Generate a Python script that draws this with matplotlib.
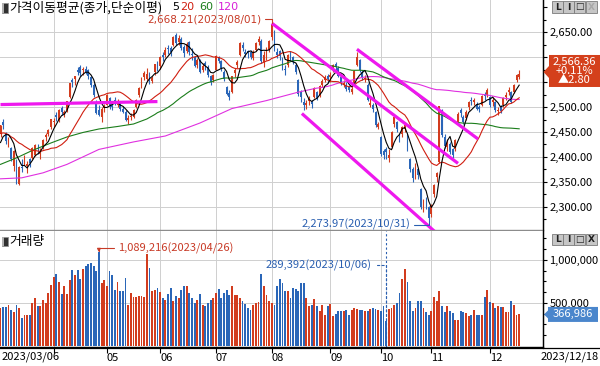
import numpy as np
import pandas as pd
import matplotlib
matplotlib.use("Agg")
import matplotlib.pyplot as plt
from matplotlib.patches import Polygon, Rectangle
from matplotlib.lines import Line2D
from matplotlib.ticker import FixedLocator, FuncFormatter

plt.rcParams['font.family'] = ['Noto Sans CJK KR', 'DejaVu Sans']
plt.rcParams['axes.unicode_minus'] = False

# ---------------- data ----------------
start_date = "2023-03-06"
end_date = "2023-12-18"
holidays = ["2023-05-01", "2023-05-05", "2023-05-29", "2023-06-06", "2023-08-15",
            "2023-09-28", "2023-09-29", "2023-10-02", "2023-10-03", "2023-10-09"]

pre_close = [2438, 2452, 2484, 2482, 2470, 2453, 2466, 2428, 2475, 2451,
             2455, 2459, 2418, 2439, 2424, 2403, 2413, 2433, 2432]

close = [
    2463, 2463, 2432, 2432, 2395, 2411, 2349, 2380, 2378, 2396, 2386, 2388, 2417, 2424, 2415, 2409, 2434, 2444, 2453, 2477,
    2472, 2481, 2495, 2490, 2490, 2512, 2548, 2551, 2562, 2571, 2569, 2576, 2571, 2563, 2544, 2524, 2489, 2485, 2496, 2502,
    2524, 2503, 2501, 2509, 2510, 2497, 2491, 2475, 2479, 2480, 2495, 2515, 2538, 2557, 2569, 2566, 2555, 2559, 2586, 2577,
    2601, 2601, 2615, 2616, 2611, 2641, 2629, 2638, 2619, 2609, 2626, 2610, 2605, 2583, 2594, 2570, 2582, 2582, 2564, 2550, 2564,
    2602, 2593, 2579, 2556, 2527, 2521, 2562, 2575, 2591, 2628, 2619, 2607, 2608, 2601, 2610, 2628, 2636, 2592, 2604, 2608, 2633,
    2667, 2616, 2605, 2603, 2581, 2574, 2605, 2602, 2591, 2571, 2526, 2520, 2505, 2509, 2516, 2506, 2538, 2519, 2543, 2552, 2561, 2556,
    2564, 2585, 2582, 2563, 2548, 2548, 2537, 2535, 2536, 2573, 2601, 2575, 2560, 2559, 2515, 2508, 2496, 2463, 2465,
    2406, 2404, 2409, 2403, 2450, 2480, 2456, 2436, 2460, 2463, 2416, 2375, 2357, 2384, 2363, 2299, 2303, 2311, 2278,
    2302, 2343, 2368, 2502, 2444, 2422, 2427, 2410, 2404, 2433, 2487, 2488, 2470, 2491, 2510, 2512, 2515, 2497, 2496, 2522, 2522, 2535,
    2505, 2515, 2494, 2495, 2492, 2518, 2525, 2535, 2511, 2544, 2563.56, 2566.36]

open_ = [
    2445, 2470, 2448, 2425, 2418, 2382, 2390, 2346, 2380, 2385, 2382, 2395, 2398, 2403, 2418, 2405, 2420, 2440, 2446, 2459,
    2470, 2485, 2475, 2498, 2487, 2495, 2520, 2555, 2557, 2575, 2580, 2574, 2576, 2574, 2560, 2545, 2510, 2495, 2480, 2498,
    2505, 2518, 2505, 2515, 2505, 2508, 2497, 2490, 2474, 2480, 2480, 2500, 2525, 2540, 2560, 2556, 2568, 2553, 2570, 2590,
    2583, 2604, 2605, 2618, 2618, 2625, 2645, 2630, 2636, 2620, 2613, 2630, 2607, 2600, 2585, 2594, 2575, 2588, 2580, 2563, 2555,
    2575, 2600, 2592, 2570, 2540, 2528, 2530, 2568, 2585, 2605, 2625, 2610, 2612, 2610, 2598, 2615, 2630, 2633, 2590, 2605, 2615,
    2640, 2652, 2610, 2612, 2598, 2576, 2585, 2605, 2600, 2585, 2555, 2530, 2510, 2505, 2512, 2510, 2520, 2530, 2525, 2545, 2555, 2562,
    2560, 2575, 2586, 2578, 2560, 2545, 2545, 2540, 2530, 2548, 2585, 2595, 2570, 2556, 2545, 2505, 2505, 2490, 2460,
    2440, 2412, 2415, 2398, 2420, 2465, 2470, 2440, 2445, 2455, 2445, 2395, 2375, 2360, 2375, 2335, 2300, 2312, 2300,
    2285, 2325, 2360, 2390, 2495, 2440, 2420, 2425, 2415, 2415, 2470, 2495, 2480, 2478, 2500, 2515, 2510, 2505, 2500, 2505, 2525, 2525,
    2520, 2510, 2510, 2492, 2500, 2505, 2520, 2530, 2530, 2530, 2555, 2560]

high = [
    2464, 2476, 2450, 2440, 2420, 2414, 2395, 2382, 2395, 2404, 2392, 2398, 2420, 2425, 2425, 2417, 2435, 2448, 2455, 2477,
    2478, 2490, 2497, 2503, 2495, 2513, 2549, 2558, 2563, 2580, 2584, 2580, 2582, 2577, 2562, 2548, 2515, 2505, 2500, 2507,
    2526, 2520, 2510, 2520, 2517, 2512, 2503, 2494, 2484, 2488, 2496, 2516, 2540, 2560, 2572, 2578, 2570, 2563, 2587, 2592,
    2602, 2610, 2620, 2625, 2622, 2643, 2648, 2644, 2640, 2625, 2630, 2632, 2618, 2603, 2598, 2596, 2588, 2592, 2584, 2565, 2567,
    2604, 2603, 2595, 2574, 2543, 2535, 2563, 2578, 2595, 2630, 2630, 2617, 2615, 2614, 2615, 2630, 2643, 2637, 2612, 2620, 2635,
    2668.21, 2655, 2618, 2615, 2600, 2585, 2607, 2612, 2603, 2588, 2557, 2535, 2518, 2515, 2522, 2515, 2540, 2533, 2545, 2556, 2565, 2566,
    2570, 2586, 2590, 2582, 2562, 2555, 2550, 2545, 2542, 2575, 2610, 2597, 2575, 2565, 2548, 2518, 2508, 2492, 2470,
    2442, 2415, 2420, 2415, 2452, 2482, 2472, 2448, 2462, 2470, 2446, 2398, 2380, 2388, 2378, 2338, 2315, 2320, 2302,
    2305, 2345, 2370, 2503, 2496, 2445, 2435, 2430, 2418, 2435, 2490, 2498, 2485, 2495, 2512, 2520, 2518, 2510, 2505, 2525, 2530, 2538,
    2522, 2520, 2512, 2500, 2505, 2520, 2530, 2540, 2533, 2546, 2567, 2575]

low = [
    2440, 2455, 2425, 2420, 2392, 2372, 2345, 2344, 2370, 2383, 2367, 2380, 2396, 2401, 2405, 2396, 2415, 2432, 2441, 2456,
    2460, 2472, 2470, 2485, 2480, 2490, 2519, 2540, 2545, 2565, 2563, 2565, 2566, 2557, 2540, 2520, 2487, 2482, 2470, 2490,
    2504, 2497, 2494, 2504, 2500, 2493, 2488, 2472, 2465, 2474, 2478, 2498, 2520, 2538, 2555, 2553, 2546, 2548, 2565, 2572,
    2576, 2593, 2600, 2607, 2603, 2622, 2625, 2624, 2615, 2600, 2608, 2605, 2595, 2580, 2578, 2568, 2570, 2575, 2560, 2545, 2550,
    2574, 2588, 2573, 2553, 2525, 2515, 2528, 2560, 2578, 2603, 2612, 2600, 2598, 2597, 2595, 2612, 2625, 2588, 2580, 2595, 2610,
    2635, 2612, 2598, 2595, 2575, 2565, 2580, 2595, 2586, 2567, 2523, 2510, 2495, 2496, 2505, 2498, 2518, 2515, 2520, 2540, 2550, 2548,
    2550, 2570, 2575, 2560, 2545, 2540, 2533, 2530, 2527, 2545, 2583, 2570, 2555, 2550, 2512, 2500, 2490, 2460, 2455,
    2402, 2395, 2396, 2390, 2418, 2460, 2450, 2430, 2440, 2450, 2412, 2370, 2350, 2355, 2355, 2296, 2290, 2295, 2273.97,
    2280, 2320, 2350, 2388, 2440, 2418, 2412, 2405, 2398, 2412, 2468, 2480, 2465, 2475, 2495, 2505, 2505, 2495, 2490, 2502, 2515, 2520,
    2500, 2502, 2490, 2485, 2488, 2500, 2515, 2525, 2508, 2528, 2550, 2556]

# volume in thousands of (thousand shares)
vol_k = [
    440, 455, 450, 480, 420, 395, 480, 445, 330, 365, 360, 360, 500, 560, 470, 470, 530, 500, 615, 715,
    805, 840, 745, 600, 695, 610, 765, 885, 830, 885, 775, 890, 935, 950, 960, 930, 870, 1089.216, 735, 765,
    703, 871, 820, 656, 742, 637, 637, 793, 480, 617, 570, 570, 578, 578, 570, 1066, 910, 637, 656, 676,
    625, 560, 540, 600, 680, 520, 580, 560, 650, 700, 700, 620, 560, 500, 540, 600, 480, 460, 500, 530, 560,
    617, 664, 560, 617, 656, 598, 695, 598, 590, 560, 520, 492, 441, 420, 480, 500, 510, 832, 695, 598, 520,
    500, 480, 703, 781, 734, 637, 637, 560, 676, 664, 637, 734, 727, 560, 461, 480, 547, 461, 402, 480, 363, 470,
    490, 344, 375, 402, 410, 402, 420, 363, 420, 440, 430, 420, 420, 402, 402, 430, 440, 430, 420,
    402, 460, 289.392, 430, 440, 480, 500, 617, 781, 898, 746, 520, 402, 440, 527, 520, 440, 390, 363,
    402, 570, 520, 640, 470, 400, 469, 402, 385, 305, 305, 410, 400, 385, 344, 363, 420, 363, 363, 363, 570, 656,
    512, 500, 441, 461, 450, 450, 400, 390, 527, 480, 363, 366.986]

ma60_early_idx = [0, 6, 12, 19, 25, 31, 37, 44, 50, 55, 58]
ma60_early_val = [2385, 2398, 2413, 2428, 2440, 2449, 2456, 2461, 2466, 2476, 2485]
ma120_early_idx = [0, 8, 16, 25, 37, 50, 62, 75, 87, 100, 112, 118]
ma120_early_val = [2356, 2358, 2368, 2385, 2415, 2430, 2442, 2468, 2497, 2513, 2530, 2537]

# user-drawn trend lines: (bar index, price) endpoints
trend_support = [(0, 2505), (59, 2511)]
trend_a = [(102, 2668.21), (172, 2387)]
trend_b = [(113.3, 2487), (163.3, 2250)]
trend_c = [(134, 2616), (179.5, 2436)]

ma_periods = ["5", "20", "60", "120"]

# ---------------- figure ----------------
W, H = 600, 366
fig = plt.figure(figsize=(W / 100, H / 100), dpi=100)
fig.patch.set_facecolor('white')


def px_axes(l, t, r, b):
    return fig.add_axes([l / W, 1 - b / H, (r - l) / W, (b - t) / H])


def fpt(x, y):
    return (x / W, 1 - y / H)


RED = '#d23c1e'
BLUE = '#2a66b8'
GRID = '#cfcfcf'
MAG = '#ee18ee'

n = len(close)
xi = np.arange(n)
o = np.array(open_, float)
c = np.array(close, float)
h = np.array(high, float)
l = np.array(low, float)
vol = np.array(vol_k, float) * 1000.0
up = c >= o
col = np.where(up, RED, BLUE)

bd = pd.bdate_range(start_date, end_date)
dates = bd[~bd.isin(pd.to_datetime(holidays))]
months = dates.month
mstart = [i for i in range(1, n) if months[i] != months[i - 1]]

XL = (-0.19, 203.95)

axp = px_axes(0, 0, 543, 230)
axv = px_axes(0, 231, 543, 347)

# ---- price panel ----
axp.set_xlim(*XL)
axp.set_ylim(2253.3, 2714.8)
for v in np.arange(2300, 2651, 50):
    axp.axhline(v, color=GRID, lw=0.7, zorder=0)
for m in mstart:
    axp.axvline(m, color=GRID, lw=0.7, zorder=0)

axp.vlines(xi, l, h, colors=col, linewidth=0.8, zorder=3)
body = np.maximum(np.abs(c - o), 1.2)
axp.bar(xi, body, bottom=np.minimum(o, c), width=0.7, color=col, linewidth=0, zorder=3)

allc = pd.Series(np.concatenate([pre_close, close]).astype(float))
ma5 = allc.rolling(5).mean().to_numpy()[len(pre_close):]
ma20 = allc.rolling(20).mean().to_numpy()[len(pre_close):]
cs = pd.Series(c)
ma60c = cs.rolling(60).mean().to_numpy()
ma120c = cs.rolling(120).mean().to_numpy()
x60 = np.concatenate([ma60_early_idx, xi[59:]])
y60 = np.concatenate([ma60_early_val, ma60c[59:]])
x120 = np.concatenate([ma120_early_idx, xi[119:]])
y120 = np.concatenate([ma120_early_val, ma120c[119:]])

axp.plot(x120, y120, color='#e030e0', lw=0.8, zorder=4)
axp.plot(x60, y60, color='#1b7d1b', lw=0.8, zorder=4)
axp.plot(xi, ma20, color='#d01e10', lw=0.8, zorder=4)
axp.plot(xi, ma5, color='black', lw=0.8, zorder=4)

for tl in (trend_support, trend_a, trend_b, trend_c):
    (xa, ya), (xb, yb) = tl
    axp.plot([xa, xb], [ya, yb], color=MAG, lw=2.3, solid_capstyle='butt', zorder=5)

for s in ['left', 'top']:
    axp.spines[s].set_visible(False)
axp.spines['bottom'].set_color('#8c8c8c')
axp.spines['bottom'].set_linewidth(1.0)
axp.spines['right'].set_color('black')
axp.spines['right'].set_linewidth(0.9)
axp.set_xticks(mstart)
axp.tick_params(axis='x', length=0, labelbottom=False)
axp.yaxis.tick_right()

# badge position (pixels from top) of the last close, used to keep covered tick labels empty
yc = H - axp.transData.transform((n - 1, c[-1]))[1]
badge_top, badge_bot, badge_tip = yc - 19, yc + 13, yc - 2
badge_mid = (badge_top + badge_bot) / 2


def price_label(v, p):
    ypx = H - axp.transData.transform((0, v))[1]
    if v >= 2700 or abs(ypx - badge_mid) < 18:
        return ''
    return f"{v:,.2f}"


pmaj = np.arange(2300, 2701, 50)
axp.yaxis.set_major_locator(FixedLocator(pmaj))
axp.yaxis.set_minor_locator(FixedLocator(np.arange(2275, 2701, 50)))
axp.yaxis.set_major_formatter(FuncFormatter(price_label))
axp.tick_params(axis='y', which='major', length=3, width=0.8, pad=1.5, labelsize=8, colors='black')
axp.tick_params(axis='y', which='minor', length=2, width=0.8)

# annotations high / low
imax = int(np.argmax(h))
imin = int(np.argmin(l))
axp.annotate(f"{h[imax]:,.2f}({dates[imax].strftime('%Y/%m/%d')})", xy=(imax, h[imax]),
             xytext=(-10, 4), textcoords='offset pixels', ha='right', va='center',
             fontsize=7.5, color='#c83a26', annotation_clip=False, zorder=6,
             family=['DejaVu Sans'],
             arrowprops=dict(arrowstyle='-', color='#c83a26', lw=0.8, shrinkA=0, shrinkB=0,
                             connectionstyle='angle,angleA=0,angleB=90,rad=0'))
axp.annotate(f"{l[imin]:,.2f}({dates[imin].strftime('%Y/%m/%d')})", xy=(imin, l[imin]),
             xytext=(-18, -5), textcoords='offset pixels', ha='right', va='center',
             fontsize=8, color='#2a5fb0', annotation_clip=False, zorder=6,
             arrowprops=dict(arrowstyle='-', color='#2a5fb0', lw=0.8, shrinkA=0, shrinkB=0,
                             connectionstyle='angle,angleA=0,angleB=90,rad=0'))

# ---- volume panel ----
axv.set_xlim(*XL)
axv.set_ylim(-11628, 1337209)
for v in (500000, 1000000):
    axv.axhline(v, color=GRID, lw=0.7, zorder=0)
for m in mstart:
    axv.axvline(m, color=GRID, lw=0.7, zorder=0)
axv.bar(xi, vol, width=0.7, color=col, linewidth=0, zorder=3)

vmax_i = int(np.argmax(vol))
vmin_i = int(np.argmin(vol))
axv.axvline(vmin_i, color='#2a5fb0', lw=0.8, ls=(0, (2, 2)), zorder=4)
axv.annotate(f"{vol[vmax_i]:,.0f}({dates[vmax_i].strftime('%Y/%m/%d')})", xy=(vmax_i, vol[vmax_i]),
             xytext=(19, 4), textcoords='offset pixels', ha='left', va='center',
             fontsize=8, color='#c83a26', annotation_clip=False, zorder=6,
             arrowprops=dict(arrowstyle='-|>', color='#c83a26', lw=0.8, shrinkA=1, shrinkB=0,
                             mutation_scale=5,
                             connectionstyle='angle,angleA=0,angleB=90,rad=0'))
axv.annotate(f"{vol[vmin_i]:,.0f}({dates[vmin_i].strftime('%Y/%m/%d')})", xy=(vmin_i, vol[vmin_i]),
             xytext=(-15, 56), textcoords='offset pixels', ha='right', va='center',
             fontsize=8, color='#2a5fb0', annotation_clip=False, zorder=6,
             arrowprops=dict(arrowstyle='-', color='#2a5fb0', lw=0.8, ls=(0, (2, 2)), shrinkA=2, shrinkB=0,
                             connectionstyle='angle,angleA=0,angleB=90,rad=0'))

for s in ['left', 'top']:
    axv.spines[s].set_visible(False)
axv.spines['bottom'].set_color('black')
axv.spines['bottom'].set_linewidth(1.0)
axv.spines['right'].set_color('black')
axv.spines['right'].set_linewidth(0.9)
axv.yaxis.tick_right()
axv.yaxis.set_major_locator(FixedLocator([500000, 1000000]))
axv.yaxis.set_minor_locator(FixedLocator([125000, 250000, 375000, 625000, 750000, 875000, 1125000, 1250000]))
axv.yaxis.set_major_formatter(FuncFormatter(lambda v, p: f"{v:,.0f}"))
axv.tick_params(axis='y', which='major', length=3, width=0.8, pad=1.5, labelsize=8, colors='black')
axv.tick_params(axis='y', which='minor', length=2, width=0.8)
axv.set_xticks(mstart)
axv.set_xticklabels([''] + [f"{dates[i].month:02d}" for i in mstart[1:]])
axv.tick_params(axis='x', length=4, width=0.8, direction='out', pad=0, labelsize=8)
for t in axv.get_xticklabels():
    t.set_ha('left')

fig.text(*fpt(2, 357), dates[0].strftime('%Y/%m/%d'), fontsize=8, ha='left', va='center')
fig.text(*fpt(599, 357), dates[-1].strftime('%Y/%m/%d'), fontsize=8, ha='right', va='center')

# frame lines
fig.add_artist(Line2D([543 / W, 543 / W], [1 - 348 / H, 1], color='black', lw=0.9))
fig.add_artist(Line2D([0, 1], [1 - 347.5 / H, 1 - 347.5 / H], color='black', lw=0.9))

# ---- titles ----
for ty in (8, 241):
    fig.add_artist(Rectangle(fpt(1.5, ty + 4.5), 6 / W, 9 / H, transform=fig.transFigure,
                             facecolor='#303030', edgecolor='#909090', lw=0.6))
    fig.add_artist(Rectangle(fpt(1.5, ty + 4.5), 2 / W, 9 / H, transform=fig.transFigure,
                             facecolor='#b0b0b0', edgecolor='none'))
fig.text(*fpt(9, 8), "가격이동평균(종가,단순이평)", fontsize=9.2, ha='left', va='center', color='black')
ma_cols = ['black', '#d01e10', '#1b7d1b', '#d820d8']
ma_x = [172, 180, 199, 218]
for lab, cc, xx in zip(ma_periods, ma_cols, ma_x):
    fig.text(*fpt(xx, 6.5), lab, fontsize=8, ha='left', va='center', color=cc,
             family=['DejaVu Sans'])
fig.text(*fpt(9, 241), "거래량", fontsize=9.2, ha='left', va='center', color='black')


# ---- buttons ----
def buttons(ytop, dim_last):
    glyphs = ['L', 'I', '□', 'X']
    for k, (xx, g) in enumerate(zip([552, 563, 574, 586], glyphs)):
        fig.add_artist(Rectangle(fpt(xx, ytop + 11), 11 / W, 11 / H, transform=fig.transFigure,
                                 facecolor='#c6c6c6', edgecolor='#7a7a7a', lw=0.6, zorder=5))
        colr = '#a8a8a8' if (dim_last and k == 3) else '#202020'
        fig.text(*fpt(xx + 5.5, ytop + 5.5), g, fontsize=6.5, ha='center', va='center',
                 color=colr, fontweight='bold', zorder=6, family=['DejaVu Sans'])


buttons(1.5, True)
buttons(234, False)

# ---- last-value badges ----
pts = [(543.5, badge_tip), (549, badge_tip - 6), (549, badge_top), (600, badge_top), (600, badge_bot),
       (549, badge_bot), (549, badge_tip + 6)]
fig.add_artist(Polygon([fpt(px, py) for px, py in pts], closed=True, transform=fig.transFigure,
                       facecolor='#d4401c', edgecolor='none', zorder=5))
chg = c[-1] - c[-2]
pct = chg / c[-2] * 100
badge_txt = f"{c[-1]:,.2f}\n{pct:+.2f}%\n▲{chg:.2f}"
fig.text(*fpt(574, badge_mid), badge_txt, fontsize=8, color='white', ha='center', va='center',
         linespacing=0.86, zorder=6, multialignment='center')

yv = H - axv.transData.transform((n - 1, vol[-1]))[1]
vpts = [(544, yv), (548, yv - 4), (548, yv - 7.5), (598, yv - 7.5), (598, yv + 7.5), (548, yv + 7.5), (548, yv + 4)]
fig.add_artist(Polygon([fpt(px, py) for px, py in vpts], closed=True, transform=fig.transFigure,
                       facecolor='#4a86cc', edgecolor='none', zorder=5))
fig.text(*fpt(573, yv), f"{vol[-1]:,.0f}", fontsize=8, color='white', ha='center', va='center', zorder=6)

fig.savefig("out.png", dpi=100)
